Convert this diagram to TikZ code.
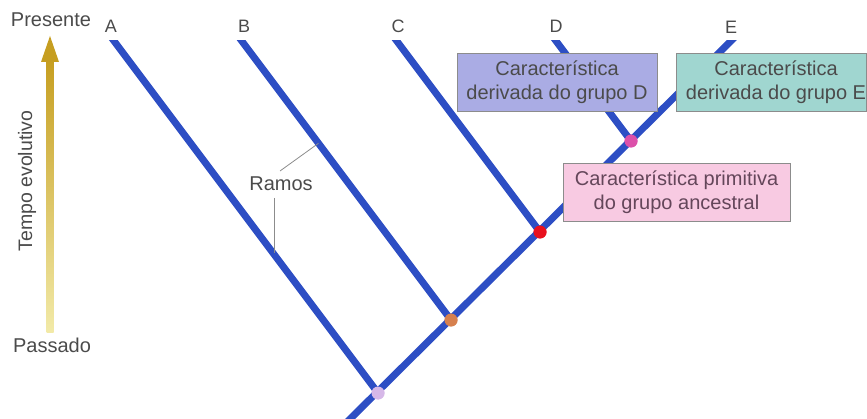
\documentclass[tikz,border=0pt]{standalone}
\usepackage{fontspec}
\setmainfont{Liberation Sans}
\usetikzlibrary{calc}
\definecolor{branch}{RGB}{45,78,196}
\definecolor{txt}{RGB}{75,75,75}
\definecolor{ptxt}{RGB}{100,70,90}
\definecolor{boxD}{RGB}{170,172,228}
\definecolor{boxE}{RGB}{160,214,208}
\definecolor{boxP}{RGB}{248,202,226}
\definecolor{dotA}{RGB}{214,184,232}
\definecolor{dotB}{RGB}{214,128,78}
\definecolor{dotC}{RGB}{232,16,30}
\definecolor{dotD}{RGB}{220,80,170}
\definecolor{goldtop}{RGB}{198,158,32}
\definecolor{goldbot}{RGB}{242,234,168}
\begin{document}
\begin{tikzpicture}[x=1pt,y=-1pt,
  lbl/.style={text=txt,font=\fontsize{19}{22}\selectfont,inner sep=0pt},
  cbox/.style={draw=black!45,line width=0.8pt,text=txt,align=center,
     font=\fontsize{20}{24.5}\selectfont,inner sep=0pt,minimum height=58pt},
  br/.style={draw=branch,line width=7pt},
  jdot/.style={circle,inner sep=0pt,minimum size=13pt},
  lead/.style={draw=black!45,line width=0.8pt}]
\useasboundingbox (0,0) rectangle (867,419);
% time arrow
\shade[bottom color=goldbot,top color=goldtop] (46.5,333) rectangle (53.5,58);
\fill[goldtop] (41,62) -- (50,36) -- (59,62) -- cycle;
\node[lbl,font=\fontsize{20}{24}\selectfont] (pres) at (51,20) {Presente};
\node[lbl,font=\fontsize{20}{24}\selectfont] (pass) at (52,345) {Passado};
\node[lbl,font=\fontsize{19.5}{24}\selectfont,rotate=90] (tempo) at (27,181) {Tempo evolutivo};
% tree coordinates
\coordinate (root) at (344,425);
\coordinate (Atop) at (109.5,35);
\coordinate (Btop) at (237.25,35);
\coordinate (Ctop) at (392.25,35);
\coordinate (Dtop) at (551.5,35);
\coordinate (Etop) at (737,35);
\node[jdot,fill=dotA] (jA) at (378,393) {};
\node[jdot,fill=dotB] (jB) at (451,320) {};
\node[jdot,fill=dotC] (jC) at (540,232) {};
\node[jdot,fill=dotD] (jD) at (631,141) {};
\begin{scope}
\clip (0,41) rectangle (867,419);
\draw[br] (root) -- (Etop);
\draw[br] (Atop) -- (jA.center);
\draw[br] (Btop) -- (jB.center);
\draw[br] (Ctop) -- (jC.center);
\draw[br] (Dtop) -- (jD.center);
\end{scope}
\node[jdot,fill=dotA] at (jA) {};
\node[jdot,fill=dotB] at (jB) {};
\node[jdot,fill=dotC] at (jC) {};
\node[jdot,fill=dotD] at (jD) {};
% letters
\node[lbl,font=\fontsize{18}{22}\selectfont] (lA) at (111,26) {A};
\node[lbl,font=\fontsize{18}{22}\selectfont] (lB) at (244,26) {B};
\node[lbl,font=\fontsize{18}{22}\selectfont] (lC) at (398,26) {C};
\node[lbl,font=\fontsize{18}{22}\selectfont] (lD) at (556,26) {D};
\node[lbl,font=\fontsize{18}{22}\selectfont] (lE) at (731,27) {E};
% boxes
\node[cbox,fill=boxD,minimum width=200pt] (bD) at (557,82) {Característica\\derivada do grupo D};
\node[cbox,fill=boxE,minimum width=190pt] (bE) at (771,82) {};
\node[cbox,draw=none,fill=none] (bEtext) at (776,82) {Característica\\derivada do grupo E};
\node[cbox,fill=boxP,minimum width=227pt,text=ptxt] (bP) at (676.5,192) {Característica primitiva\\do grupo ancestral};
% Ramos
\node[lbl,font=\fontsize{20}{24}\selectfont] (ramos) at (281,184) {Ramos};
\coordinate (rB) at ($(Btop)!0.38!(jB.center)$);
\coordinate (rA) at (274,253);
\draw[lead] (280,171) -- (rB);
\draw[lead] (274,198) -- (rA);
\end{tikzpicture}
\end{document}
